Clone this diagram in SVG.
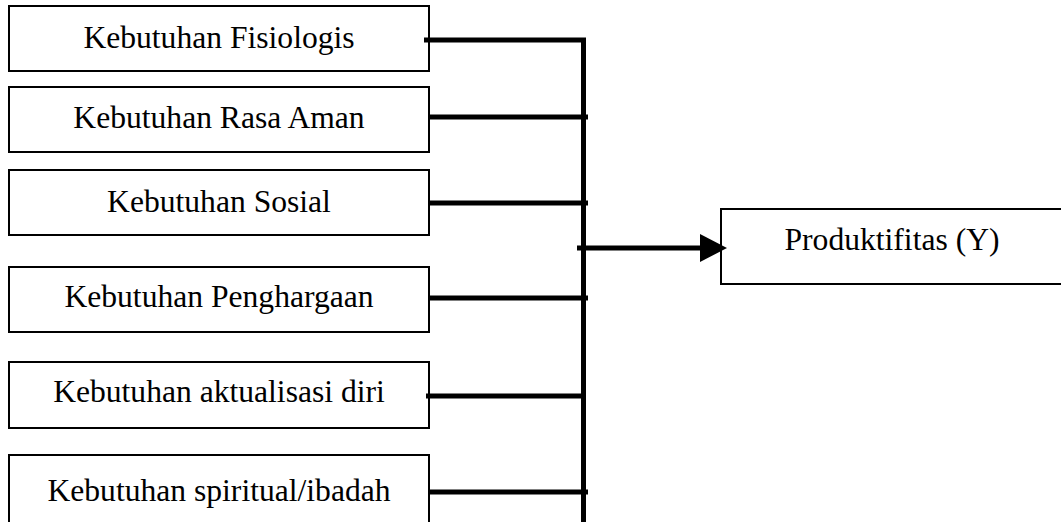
<svg xmlns="http://www.w3.org/2000/svg" width="1061" height="522" viewBox="0 0 1061 522">
<style>
.box{fill:#fff;stroke:#000;stroke-width:2}
.lbl{font-family:"Liberation Serif","Times New Roman",serif;font-size:31.6px;fill:#000;text-anchor:middle}
.con{stroke:#000;stroke-width:5;fill:none}
</style>
<rect width="1061" height="522" fill="#fff"/>
<g id="n1"><rect class="box" x="9" y="6" width="420" height="65"/><text class="lbl" x="219" y="48">Kebutuhan Fisiologis</text></g>
<g id="n2"><rect class="box" x="9" y="87" width="420" height="65"/><text class="lbl" x="219" y="128">Kebutuhan Rasa Aman</text></g>
<g id="n3"><rect class="box" x="9" y="170" width="420" height="65"/><text class="lbl" x="219" y="212">Kebutuhan Sosial</text></g>
<g id="n4"><rect class="box" x="9" y="267" width="420" height="65"/><text class="lbl" x="219" y="307">Kebutuhan Penghargaan</text></g>
<g id="n5"><rect class="box" x="9" y="362" width="420" height="66"/><text class="lbl" x="219" y="402">Kebutuhan aktualisasi diri</text></g>
<g id="n6"><rect class="box" x="9" y="455" width="420" height="80"/><text class="lbl" x="219" y="501">Kebutuhan spiritual/ibadah</text></g>
<g id="ny"><rect class="box" x="721" y="209" width="344" height="75"/><text class="lbl" x="892" y="250">Produktifitas (Y)</text></g>
<g id="connectors">
<line class="con" x1="424" y1="40" x2="586" y2="40"/>
<line class="con" x1="429" y1="117" x2="588" y2="117"/>
<line class="con" x1="430" y1="203" x2="588" y2="203"/>
<line class="con" x1="430" y1="298" x2="588" y2="298"/>
<line class="con" x1="426" y1="396" x2="586" y2="396"/>
<line class="con" x1="429" y1="492" x2="588" y2="492"/>
<line class="con" x1="583.5" y1="38" x2="583.5" y2="522"/>
<line class="con" x1="577" y1="248" x2="702" y2="248"/>
<polygon points="700,234 727,248 700,262" fill="#000"/>
</g>
</svg>
